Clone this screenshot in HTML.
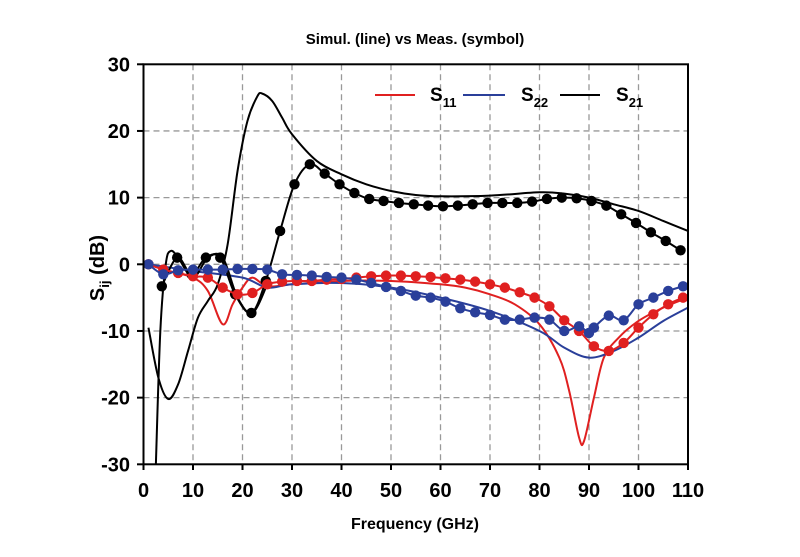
<!DOCTYPE html>
<html><head><meta charset="utf-8"><style>
body{margin:0;background:#fff;}
svg{display:block;font-family:"Liberation Sans",Arial,sans-serif;font-weight:bold;}
</style></head><body>
<svg id="s" width="800" height="557" viewBox="0 0 800 557" xmlns="http://www.w3.org/2000/svg">
<text x="415" y="44" font-size="15" text-anchor="middle">Simul. (line) vs Meas. (symbol)</text>
<g id="grid" stroke="#999" stroke-width="1.3" stroke-dasharray="6,4" fill="none"></g>
<g id="data"></g>
<rect x="143.5" y="64.3" width="544.5" height="400" fill="none" stroke="#000" stroke-width="2"/>
<g id="ticks" font-size="20"></g>
<text x="415" y="529" font-size="16" text-anchor="middle">Frequency (GHz)</text>
<text transform="translate(104,268) rotate(-90)" font-size="20" text-anchor="middle">S<tspan font-size="13" dy="5">ij</tspan><tspan dy="-5"> (dB)</tspan></text>
<line x1="375" y1="95" x2="415" y2="95" stroke="#e02020" stroke-width="2"/>
<text x="430" y="101" font-size="19">S<tspan font-size="13" dy="6">11</tspan></text>
<line x1="463" y1="95" x2="505" y2="95" stroke="#2a3f9a" stroke-width="2"/>
<text x="521" y="101" font-size="19">S<tspan font-size="13" dy="6">22</tspan></text>
<line x1="560" y1="95" x2="600" y2="95" stroke="#000" stroke-width="2"/>
<text x="616" y="101" font-size="19">S<tspan font-size="13" dy="6">21</tspan></text>
</svg>
<script>
const X=f=>143.5+f*4.95,Y=d=>264.3-d*6.667;
const NS="http://www.w3.org/2000/svg";
function el(p,t,a,txt){const e=document.createElementNS(NS,t);for(const k in a)e.setAttribute(k,a[k]);if(txt!=null)e.textContent=txt;p.appendChild(e);return e;}
const g=document.getElementById('grid'),tk=document.getElementById('ticks'),dt=document.getElementById('data');
for(let f=10;f<110;f+=10)el(g,'line',{x1:X(f),y1:64.3,x2:X(f),y2:464.3});
for(let d=-20;d<30;d+=10)el(g,'line',{x1:143.5,y1:Y(d),x2:688,y2:Y(d)});
for(let f=0;f<=110;f+=10){el(tk,'line',{x1:X(f),y1:464,x2:X(f),y2:470,stroke:'#000','stroke-width':2});el(tk,'text',{x:X(f),y:497,'text-anchor':'middle'},f);}
for(let d=-30;d<=30;d+=10){el(tk,'line',{x1:137,y1:Y(d),x2:143.5,y2:Y(d),stroke:'#000','stroke-width':2});el(tk,'text',{x:130,y:Y(d)+7,'text-anchor':'end'},d);}
function path(pts){const P=pts.map(p=>[X(p[0]),Y(p[1])]);let s='M'+P[0].join(',');for(let i=0;i<P.length-1;i++){const p0=P[i-1]||P[i],p1=P[i],p2=P[i+1],p3=P[i+2]||p2;s+=' C'+(p1[0]+(p2[0]-p0[0])/6)+','+(p1[1]+(p2[1]-p0[1])/6)+' '+(p2[0]-(p3[0]-p1[0])/6)+','+(p2[1]-(p3[1]-p1[1])/6)+' '+p2[0]+','+p2[1];}return s;}
function line(pts,c){el(dt,'path',{d:path(pts),fill:'none',stroke:c,'stroke-width':2});}
function marks(pts,c){line(pts,c);pts.forEach(p=>el(dt,'circle',{cx:X(p[0]),cy:Y(p[1]),r:5.2,fill:c}));}
const red='#e02020',blue='#2a3f9a';
line([[1,0],[5,-1],[10,-2],[13,-4],[16,-9],[18,-6],[20,-3.5],[22,-2],[25,-3.3],[30,-3],[40,-2.5],[50,-2.5],[60,-3],[65,-3.5],[70,-4.5],[75,-6],[80,-9],[84,-14],[86,-19],[88,-26],[89,-26.5],[91,-20],[93,-14],[96,-11],[100,-8.5],[105,-6.5],[110,-5]],red);
line([[1,0],[10,-1],[20,-2],[25,-3.5],[30,-3],[40,-2.8],[50,-3.5],[60,-5],[70,-7],[80,-10],[85,-12.5],[90,-14],[95,-13],[100,-11],[105,-8.5],[110,-6.5]],blue);
line([[1,-9.5],[3,-17],[5,-20.2],[7,-18],[9,-13],[11,-8],[13,-5.5],[15,-3],[17,3],[19,14],[21,21.5],[23,25.2],[24,25.6],[26,24.5],[28,22],[30,19.5],[35,15.5],[40,13.5],[45,12],[50,11],[55,10.4],[60,10.2],[70,10.3],[80,10.8],[85,10.6],[90,10],[95,9],[100,8],[105,6.5],[110,5]],'#000');
line([[2.5,-30],[3.4,-10],[4.5,0],[5.5,2],[7,1],[10,-2],[13,1],[16,1],[19,-5],[22,-7.3],[25,-3]],'#000');
marks([[3.7,-3.3],[6.8,1],[9.7,-1.5],[12.6,1],[15.5,1],[18.5,-4.5],[21.8,-7.3],[24.7,-2.5],[27.6,5],[30.5,12],[33.6,15],[36.6,13.6],[39.6,12],[42.6,10.7],[45.6,9.8],[48.5,9.5],[51.6,9.2],[54.6,9],[57.5,8.8],[60.5,8.7],[63.5,8.8],[66.5,9],[69.5,9.2],[72.5,9.2],[75.5,9.2],[78.5,9.4],[81.5,9.8],[84.5,10],[87.5,9.9],[90.5,9.5],[93.5,8.8],[96.5,7.5],[99.5,6.2],[102.5,4.8],[105.5,3.5],[108.5,2.1]],'#000');
marks([[1,0],[4,-0.8],[7,-1.3],[10,-1.8],[13,-2],[16,-3.5],[19,-4.5],[22,-4.3],[25,-3],[28,-2.6],[31,-2.5],[34,-2.5],[37,-2.3],[40,-2.2],[43,-2],[46,-1.8],[49,-1.7],[52,-1.7],[55,-1.8],[58,-1.9],[61,-2.1],[64,-2.3],[67,-2.6],[70,-3],[73,-3.5],[76,-4.2],[79,-5],[82,-6.3],[85,-8.4],[88,-10],[91,-12.3],[94,-13],[97,-11.8],[100,-9.5],[103,-7.5],[106,-6],[109,-5]],red);
marks([[1,0],[4,-1.5],[7,-0.9],[10,-0.8],[13,-0.8],[16,-0.8],[19,-0.7],[22,-0.7],[25,-0.8],[28,-1.5],[31,-1.6],[34,-1.7],[37,-1.9],[40,-2],[43,-2.3],[46,-2.8],[49,-3.4],[52,-4],[55,-4.7],[58,-5],[61,-5.6],[64,-6.6],[67,-7.2],[70,-7.6],[73,-8.3],[76,-8.3],[79,-8],[82,-8.3],[85,-10],[88,-9.3],[90,-10.3],[91,-9.5],[94,-7.7],[97,-8.4],[100,-6],[103,-5],[106,-4],[109,-3.3]],blue);
</script>
</body></html>
